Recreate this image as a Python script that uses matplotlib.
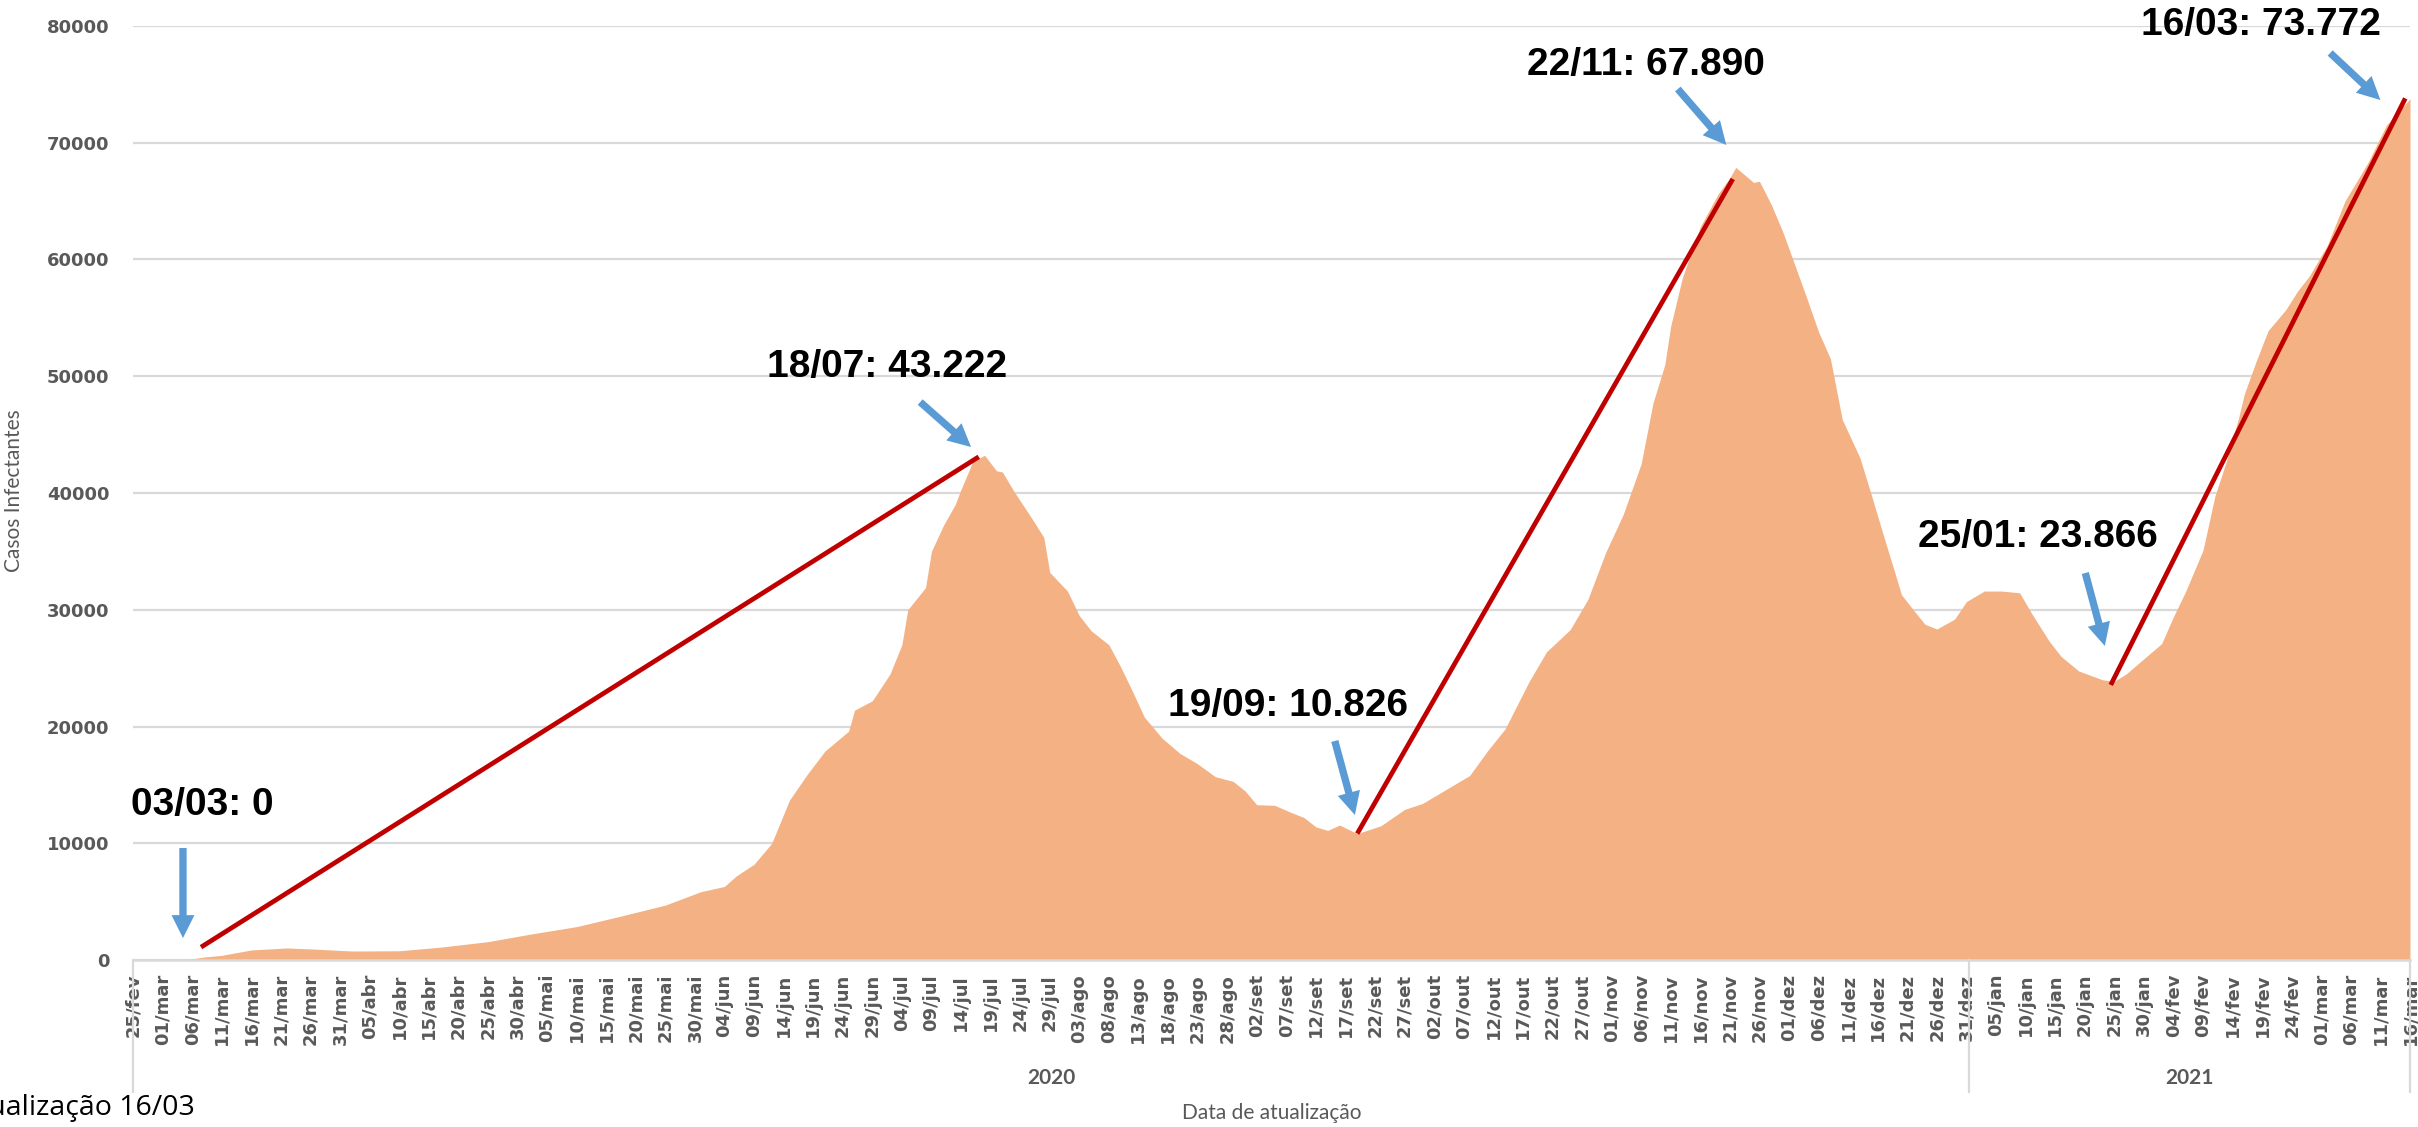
import pandas as pd
import matplotlib
matplotlib.use("Agg")
import matplotlib.pyplot as plt
import matplotlib.transforms as mtransforms

# Casos infectantes (leitura do gráfico), dias contados a partir de 25/02/2020
dias = [0, 5, 8, 10, 12, 15, 20, 26, 30, 37, 45, 52, 60, 67, 75, 82, 90, 96, 100, 102,
        105, 108, 111, 114, 117, 121, 122, 125, 128, 130, 131, 134, 135, 137, 139, 140,
        142, 144, 146, 147, 149, 152, 154, 155, 158, 160, 162, 165, 167, 169, 171, 174,
        177, 180, 183, 186, 188, 190, 193, 196, 198, 200, 202, 204, 207, 211, 215, 218,
        222, 226, 229, 232, 236, 239, 243, 246, 249, 252, 255, 257, 259, 260, 262, 265,
        268, 270, 271, 274, 275, 277, 279, 281, 283, 285, 287, 289, 292, 294, 296, 298,
        299, 301, 303, 305, 308, 310, 313, 316, 319, 321, 324, 326, 329, 333, 335, 337,
        340, 343, 345, 347, 350, 352, 354, 356, 357, 359, 361, 364, 366, 368, 371, 374,
        378, 381, 385]
casos = [0, 0, 0, 100, 250, 400, 860, 1030, 950, 770, 790, 1100, 1570, 2200, 2860, 3700, 4700, 5850, 6300, 7200,
         8200, 10000, 13700, 15900, 17900, 19600, 21400, 22200, 24500, 27000, 30000, 31900, 35000, 37200, 39000, 40300,
         42700, 43222, 41900, 41800, 40100, 37800, 36200, 33200, 31600, 29500, 28200, 27000, 25100, 23000, 20800, 19000,
         17700, 16800, 15700, 15300, 14500, 13300, 13250, 12600, 12200, 11400, 11100, 11560, 10826, 11500, 12900, 13400,
         14600, 15800, 17900, 19800, 23800, 26400, 28300, 30900, 34900, 38200, 42500, 47700, 51000, 54300, 58500, 62800,
         65600, 67000, 67890, 66600, 66700, 64700, 62300, 59500, 56700, 53800, 51500, 46300, 43000, 39700, 36300, 33000,
         31300, 30000, 28750, 28350, 29200, 30700, 31600, 31600, 31450, 29700, 27300, 26000, 24750, 24000, 23866, 24500,
         25800, 27100, 29400, 31500, 35100, 39700, 42800, 46400, 48500, 51300, 53900, 55700, 57300, 58600, 61200, 65000,
         68400, 71500, 73772]

meses = ["jan", "fev", "mar", "abr", "mai", "jun", "jul", "ago", "set", "out", "nov", "dez"]
datas = pd.date_range("2020-02-25", "2021-03-16", freq="5D")
rotulos = [f"{d.day:02d}/{meses[d.month - 1]}" for d in datas]

# linhas de tendencia (inicio, fim)
tend_x = [(11.5, 143), (207, 270.5), (334.4, 384.2)]
tend_y = [(1100, 43100), (10830, 66900), (23560, 73800)]

# anotacoes: texto, posicao do texto, seta (origem -> ponta)
anot_txt = ["03/03: 0", "18/07: 43.222", "19/09: 10.826", "22/11: 67.890", "25/01: 23.866", "16/03: 73.772"]
anot_pos = [(11.7, 13280), (127.5, 50790), (195.3, 21760), (255.8, 76660), (322.1, 36230), (359.8, 80090)]
seta_de = [(8.45, 9590), (133.1, 47790), (203.2, 18760), (261.2, 74600), (330.1, 33150), (371.5, 77690)]
seta_para = [(8.45, 1880), (141.7, 43940), (206.6, 12420), (269.4, 69810), (333.4, 26900), (380.0, 73660)]

anos = ["2020", "2021"]
limites_anos = [0, 310.5, 385]

cinza = "#595959"
fig = plt.figure(figsize=(24.18, 11.27), dpi=100)
ax = fig.add_axes([133 / 2418, 1 - 960 / 1127, 2277 / 2418, 934 / 1127])

ax.fill_between(dias, casos, 0, color="#F4B183", lw=0, zorder=2)

for xs, ys in zip(tend_x, tend_y):
    ax.plot(xs, ys, color="#C00000", lw=3.4, solid_capstyle="butt", zorder=4)

for txt, pos, de, para in zip(anot_txt, anot_pos, seta_de, seta_para):
    ax.text(pos[0], pos[1], txt, ha="center", va="center", fontsize=28, fontweight="bold",
            family=["Liberation Sans", "DejaVu Sans"], color="black", clip_on=False, zorder=6)
    ax.annotate("", xy=para, xytext=de, annotation_clip=False,
                arrowprops=dict(arrowstyle="simple,head_length=0.5,head_width=0.5,tail_width=0.16",
                                mutation_scale=33, color="#5B9BD5", shrinkA=0, shrinkB=0, lw=0),
                zorder=5)

ax.set_xlim(0, 385)
ax.set_ylim(0, 80000)
ax.set_yticks(range(0, 80001, 10000))
ax.set_yticklabels([str(v) for v in range(0, 80001, 10000)], fontsize=13, fontweight="bold",
                   color=cinza, family="DejaVu Sans")
ax.set_xticks(range(0, 386, 5))
ax.set_xticklabels(rotulos, rotation=90, fontsize=13, fontweight="bold", color=cinza, family="DejaVu Sans")
ax.tick_params(axis="y", length=0, pad=17)
ax.tick_params(axis="x", length=0, pad=10)
ax.grid(axis="y", color="#D9D9D9", lw=1.6, zorder=0)
ax.set_axisbelow(True)
for s in ["top", "right", "left"]:
    ax.spines[s].set_visible(False)
ax.spines["bottom"].set_color("#D9D9D9")
ax.spines["bottom"].set_linewidth(1.8)
ax.spines["bottom"].set_zorder(3)

trans = mtransforms.blended_transform_factory(ax.transData, ax.transAxes)
for x in limites_anos:
    ax.plot([x, x], [0, -0.1413], transform=trans, color="#D9D9D9", lw=1.6, clip_on=False)
for i, ano in enumerate(anos):
    ax.text((limites_anos[i] + limites_anos[i + 1]) / 2, -0.1263, ano, transform=trans,
            ha="center", va="center", fontsize=15, fontweight="bold", color=cinza, family="Lato")

ax.text(0.5, -0.164, "Data de atualização", transform=ax.transAxes, ha="center", va="center",
        fontsize=15, color=cinza, family="Lato")
ax.set_ylabel("Casos Infectantes", fontsize=15, color=cinza, family="Lato")
ax.yaxis.set_label_coords(-0.0479, 0.503)

# texto cortado na borda esquerda, como na imagem original
fig.text(195 / 2418, 1 - 1108 / 1127, "Atualização 16/03", ha="right", va="center",
         fontsize=20.5, color="black", family="Open Sans")

fig.savefig("out.png", dpi=100)
